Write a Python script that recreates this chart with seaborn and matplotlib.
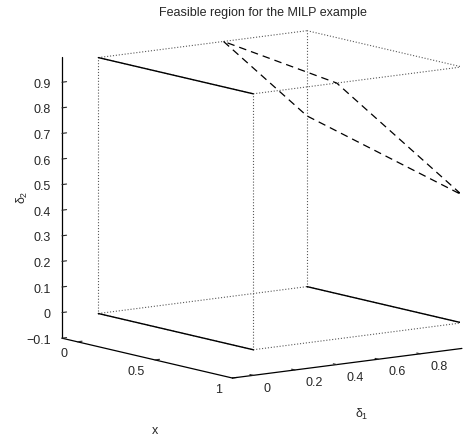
import matplotlib
matplotlib.use("Agg")
import matplotlib.pyplot as plt
import matplotlib.transforms as mtransforms
import seaborn as sns
import numpy as np
from itertools import product

sns.set_style("white")
plt.rcParams["font.family"] = ["Liberation Sans", "DejaVu Sans"]
plt.rcParams["mathtext.fontset"] = "custom"
plt.rcParams["mathtext.rm"] = "Liberation Sans"
plt.rcParams["mathtext.it"] = "Liberation Sans"

# Continuous variable range and the binary (delta1, delta2) combinations that are feasible
x_range = [0, 1]
feasible_d1 = [0, 1, 0]
feasible_d2 = [0, 0, 1]

# Cut of the relaxation: x + 5*delta1 + 6*delta2 = 9 on the unit cube
cut_x = [0, 0, 1, 1, 0]
cut_d1 = [0.6, 1, 1, 0.4, 0.6]
cut_d2 = [1, 0.667, 0.5, 1, 1]

# Unit cube corners
cube_lo_hi = [0, 1]

# Axes ticks and labels
lims = [-0.1, 1]
x_ticks = [0, 0.5, 1]
x_ticklabels = ["0", "0.5", "1"]
d1_ticks = [0, 0.2, 0.4, 0.6, 0.8]
d1_ticklabels = ["0", "0.2", "0.4", "0.6", "0.8"]
d2_ticks = [-0.1, 0, 0.1, 0.2, 0.3, 0.4, 0.5, 0.6, 0.7, 0.8, 0.9]
d2_ticklabels = ["\u22120.1", "0", "0.1", "0.2", "0.3", "0.4", "0.5", "0.6", "0.7", "0.8", "0.9"]

W, H = 474, 438
fig = plt.figure(figsize=(W / 100, H / 100), dpi=100)
ax = fig.add_axes([0.041, 0.060, 1.0, 0.93], projection="3d", proj_type="ortho")
ax.view_init(elev=10, azim=-36.6)
ax.set_box_aspect((1, 1, 1), zoom=1.18)

# dotted cube edges
for a, b in product(cube_lo_hi, repeat=2):
    ax.plot(cube_lo_hi, [a, a], [b, b], ls=":", color="0.35", lw=0.8)
    ax.plot([a, a], cube_lo_hi, [b, b], ls=":", color="0.35", lw=0.8)
    ax.plot([a, a], [b, b], cube_lo_hi, ls=":", color="0.35", lw=0.8)

# feasible segments
for d1, d2 in zip(feasible_d1, feasible_d2):
    ax.plot(x_range, [d1, d1], [d2, d2], color="black", lw=1.0)

# cut polygon
ax.plot(cut_x, cut_d1, cut_d2, ls=(0, (6, 4)), color="black", lw=0.9)

ax.set_xlim(lims)
ax.set_ylim(lims)
ax.set_zlim(lims)
ax.set_xticks(x_ticks, x_ticklabels)
ax.set_yticks(d1_ticks, d1_ticklabels)
ax.set_zticks(d2_ticks, d2_ticklabels)
ax.tick_params(axis="x", labelsize=9, pad=-6)
ax.tick_params(axis="y", labelsize=9, pad=-6)
ax.tick_params(axis="z", labelsize=9, pad=-1)


def nudge_ticklabels(axis, ha, dx, dy):
    """Align and shift an axis' tick labels by a fixed number of pixels."""
    get_ticks = axis.get_major_ticks

    def get_major_ticks(numticks=None):
        ticks = get_ticks(numticks)
        for t in ticks:
            t.label1.set_horizontalalignment(ha)
            t.label1.set_transform(mtransforms.offset_copy(
                ax.transData, fig=fig, x=dx, y=dy, units="dots"))
        return ticks

    axis.get_major_ticks = get_major_ticks


nudge_ticklabels(ax.xaxis, "right", -7, -2)
nudge_ticklabels(ax.yaxis, "left", 8, -3)
nudge_ticklabels(ax.zaxis, "right", 7, 3)

for axis in (ax.xaxis, ax.yaxis, ax.zaxis):
    axis.set_pane_color((1, 1, 1, 0))
    axis.pane.set_edgecolor((1, 1, 1, 0))
    axis.line.set_color("black")
    axis.line.set_linewidth(0.9)
    axis._axinfo["tick"]["color"] = "black"
    axis._axinfo["tick"]["inward_factor"] = 0.0
    axis._axinfo["tick"]["outward_factor"] = 0.25
ax.grid(False)
ax.zaxis.set_ticks_position("lower")

# axis labels
fig.text(155 / W, 1 - 431 / H, "x", fontsize=9, ha="center", va="center")
fig.text(362 / W, 1 - 414 / H, r"$\delta_1$", fontsize=9, ha="center", va="center")
fig.text(22 / W, 1 - 197 / H, r"$\delta_2$", fontsize=9, ha="center", va="center",
         rotation=90)

fig.text(263 / W, 1 - 13 / H, "Feasible region for the MILP example", fontsize=9,
         ha="center", va="center")

fig.savefig("out.png", dpi=100)
